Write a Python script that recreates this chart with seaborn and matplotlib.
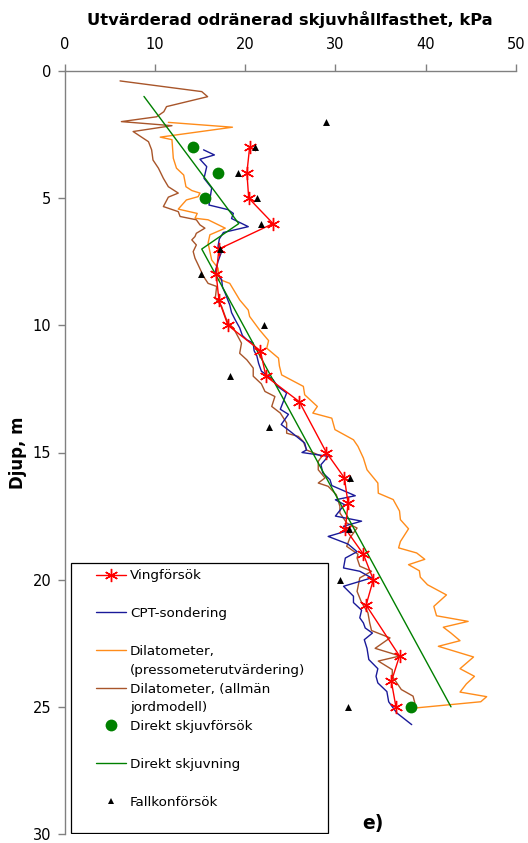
import matplotlib
matplotlib.use("Agg")
import matplotlib.pyplot as plt
import seaborn as sns
from matplotlib.lines import Line2D
from matplotlib.patches import Rectangle

# ---------------- data ----------------
vane_depth = [3, 4, 5, 6, 7, 8, 9, 10, 11, 12, 13, 15, 16, 17, 18, 19, 20, 21, 23, 24, 25]
vane_value = [20.5, 20.2, 20.4, 23.1, 17.1, 16.8, 17.1, 18.1, 21.7, 22.3, 26.0, 29.0, 31.0,
              31.4, 31.1, 33.1, 34.2, 33.4, 37.1, 36.2, 36.7]

cpt_depth = [3.1, 3.3, 3.47, 3.76, 4.22, 4.6, 5.27, 5.45, 5.6, 5.8, 6.12, 6.35, 6.6, 6.9, 7.1,
             7.49, 7.89, 8.2, 8.5, 8.74, 9.2, 9.5, 9.78, 10.1, 10.4, 10.57, 10.7, 11.0, 11.2,
             11.5, 11.8, 12.14, 12.4, 12.66, 13.3, 13.5, 13.9, 14.17, 14.63, 14.9, 15.0, 15.15,
             15.48, 15.8, 16.07, 16.3, 16.7, 16.86, 17.05, 17.5, 17.7, 17.9, 18.04, 18.3, 18.6,
             18.9, 19.15, 19.54, 19.67, 19.93, 20.26, 20.65, 20.9, 21.2, 21.5, 21.7, 21.9, 22.1,
             22.36, 22.7, 23.14, 23.5, 23.8, 24.06, 24.4, 24.8, 25.24, 25.7]
cpt_value = [15.4, 16.6, 15.0, 15.75, 15.45, 16.3, 16.0, 18.1, 18.7, 18.5, 20.35, 17.6, 17.15,
             17.0, 17.4, 17.0, 16.7, 17.4, 17.5, 17.8, 18.3, 18.5, 18.9, 19.4, 19.7, 20.2, 20.9,
             21.0, 21.3, 21.5, 21.8, 23.1, 23.6, 24.6, 23.9, 24.8, 24.0, 25.0, 26.6, 26.8, 26.3,
             29.2, 28.4, 28.6, 29.4, 29.6, 32.2, 30.0, 31.0, 30.0, 32.9, 30.9, 31.7, 29.2, 31.4,
             32.4, 31.1, 30.9, 32.7, 34.0, 30.9, 32.0, 32.0, 32.9, 32.7, 33.1, 33.3, 34.1, 33.2,
             33.5, 33.7, 34.7, 34.5, 34.7, 35.7, 35.9, 36.8, 38.45]

dilp_depth = [2.02, 2.21, 2.6, 2.7, 3.43, 3.82, 4.09, 4.55, 4.7, 4.8, 4.94, 5.07, 5.43, 5.6,
              5.79, 5.85, 6.18, 6.44, 6.77, 7.43, 7.75, 8.2, 8.35, 9.0, 9.4, 9.65, 10.18, 10.6,
              10.9, 11.29, 11.6, 11.95, 12.4, 12.73, 13.19, 13.45, 13.65, 14.1, 14.5, 14.76,
              15.22, 15.68, 16.2, 16.6, 16.85, 17.3, 17.64, 18.0, 18.5, 18.75, 18.95, 19.2,
              19.41, 19.65, 19.9, 20.2, 20.6, 21.05, 21.42, 21.64, 21.87, 22.1, 22.4, 22.62,
              23.04, 23.5, 23.8, 24.1, 24.42, 24.6, 24.8, 25.04]
dilp_value = [11.5, 18.6, 10.6, 11.9, 12.05, 12.4, 13.2, 13.45, 14.1, 15.0, 14.8, 13.5, 12.6,
              14.7, 14.45, 15.9, 17.8, 16.1, 15.9, 16.3, 17.0, 17.2, 18.3, 19.4, 20.35, 20.5,
              21.6, 22.6, 22.4, 23.7, 23.8, 24.05, 26.45, 26.6, 28.0, 27.5, 29.6, 29.95, 32.0,
              32.5, 33.1, 33.5, 34.7, 34.75, 36.4, 37.1, 37.2, 38.1, 37.2, 37.0, 39.0, 39.9,
              38.1, 39.3, 39.4, 40.2, 42.3, 40.9, 41.2, 44.7, 41.95, 42.8, 43.8, 41.4, 45.3,
              43.8, 45.4, 44.5, 43.8, 46.75, 46.1, 39.0]

dila_depth = [0.39, 0.81, 1.01, 1.4, 1.6, 1.8, 1.99, 2.15, 2.38, 2.78, 3.1, 3.5, 3.82, 4.22,
              4.55, 4.8, 4.96, 5.33, 5.53, 5.72, 5.85, 6.05, 6.18, 6.38, 6.51, 6.64, 6.84, 7.1,
              7.36, 7.62, 8.08, 8.35, 8.47, 8.93, 9.26, 9.65, 9.91, 10.1, 10.37, 10.7, 11.1,
              11.36, 11.68, 12.0, 12.3, 12.6, 12.8, 13.19, 13.45, 13.84, 14.24, 14.37, 14.57,
              14.9, 15.15, 15.35, 15.68, 16.0, 16.2, 16.33, 16.66, 17.12, 17.38, 17.77, 17.97,
              18.36, 18.69, 19.0, 19.15, 19.47, 19.67, 19.93, 20.46, 20.9, 21.3, 21.7, 22.0,
              22.29, 22.7, 23.0, 23.2, 23.54, 23.8, 24.06, 24.32, 24.58, 24.85]
dila_value = [6.15, 15.2, 15.85, 11.3, 11.0, 10.2, 6.3, 11.9, 7.6, 9.3, 9.65, 9.8, 10.4, 10.95,
              11.5, 12.6, 11.5, 10.95, 12.6, 12.8, 14.6, 15.0, 15.55, 14.6, 14.45, 14.1, 14.6,
              14.25, 14.45, 14.8, 15.4, 15.9, 16.85, 16.7, 17.4, 17.8, 18.1, 18.7, 19.1, 19.6,
              19.4, 20.2, 20.9, 20.9, 21.8, 22.2, 23.3, 22.95, 23.9, 24.6, 24.6, 25.9, 26.45,
              26.8, 28.5, 28.1, 28.1, 28.85, 28.1, 29.2, 30.1, 30.5, 30.5, 31.25, 32.4, 31.6,
              31.25, 32.5, 32.4, 32.7, 34.0, 32.7, 32.4, 32.9, 33.6, 33.8, 34.0, 36.05, 34.4,
              37.15, 34.75, 36.3, 36.3, 36.8, 37.3, 38.6, 38.8]

dst_depth = [3, 4, 5, 25]
dst_value = [14.2, 17.0, 15.6, 38.4]

ds_line_depth = [1.0, 6.0, 7.0, 25.0]
ds_line_value = [8.8, 19.3, 15.2, 42.8]

fall_depth = [2, 3, 4, 5, 6, 7, 8, 10, 12, 14, 16, 18, 20, 25]
fall_value = [29.0, 21.1, 19.2, 21.35, 21.8, 17.2, 15.1, 22.1, 18.3, 22.6, 31.6, 31.5, 30.5, 31.4]

legend_labels = ["Vingförsök", " ", "CPT-sondering", " ", "Dilatometer,",
                 "(pressometerutvärdering)", "Dilatometer, (allmän", "jordmodell)",
                 "Direkt skjuvförsök", " ", "Direkt skjuvning", " ", "Fallkonförsök"]

x_title = "Utvärderad odränerad skjuvhållfasthet, kPa"
y_title = "Djup, m"
x_ticks = [0, 10, 20, 30, 40, 50]
y_ticks = [0, 5, 10, 15, 20, 25, 30]

# ---------------- styling ----------------
sns.set_theme(style="white")
plt.rcParams['font.family'] = ['DejaVu Sans']
plt.rcParams['text.color'] = 'black'
plt.rcParams['axes.labelcolor'] = 'black'
plt.rcParams['xtick.color'] = 'black'
plt.rcParams['ytick.color'] = 'black'

RED = "#FF0000"
NAVY = "#1A1A99"
ORANGE = "#FF8C1A"
BROWN = "#A8552A"
GREEN = "#008000"
GRAY = "#808080"

W, H = 528, 843
fig = plt.figure(figsize=(W / 100, H / 100), dpi=100, facecolor="white")
ax_l, ax_r, ax_t, ax_b = 64.5, 516.0, 71.0, 834.0
ax = fig.add_axes([ax_l / W, 1 - ax_b / H, (ax_r - ax_l) / W, (ax_b - ax_t) / H])
ax.set_facecolor("white")

star = (6, 2, 0)
sns.lineplot(x=dila_value, y=dila_depth, sort=False, estimator=None, color=BROWN, lw=1.0,
             ax=ax, legend=False, zorder=2)
sns.lineplot(x=dilp_value, y=dilp_depth, sort=False, estimator=None, color=ORANGE, lw=1.0,
             ax=ax, legend=False, zorder=2)
sns.lineplot(x=cpt_value, y=cpt_depth, sort=False, estimator=None, color=NAVY, lw=1.0,
             ax=ax, legend=False, zorder=2.2)
sns.lineplot(x=ds_line_value, y=ds_line_depth, sort=False, estimator=None, color=GREEN,
             lw=1.0, ax=ax, legend=False, zorder=2.3)
sns.lineplot(x=vane_value, y=vane_depth, sort=False, estimator=None, color=RED, lw=1.0,
             marker=star, markersize=9.5, markeredgecolor=RED, markeredgewidth=1.0,
             ax=ax, legend=False, zorder=3)
sns.scatterplot(x=dst_value, y=dst_depth, color=GREEN, s=72, marker="o", linewidth=0,
                ax=ax, legend=False, zorder=3.2)
sns.scatterplot(x=fall_value, y=fall_depth, color="black", s=25, marker="^", linewidth=0,
                ax=ax, legend=False, zorder=3.4)

ax.set_xlim(0, 50)
ax.set_ylim(30, 0)
ax.xaxis.tick_top()
ax.xaxis.set_label_position("top")
ax.set_xticks(x_ticks)
ax.set_yticks(y_ticks)
ax.set_xticklabels([str(t) for t in x_ticks])
ax.set_yticklabels([str(t) for t in y_ticks])
ax.tick_params(axis="x", direction="out", length=5, width=1, color=GRAY, labelcolor="black",
               labelsize=10.5, pad=8.5, top=True, bottom=False, labeltop=True,
               labelbottom=False)
ax.tick_params(axis="y", direction="out", length=5, width=1, color=GRAY, labelcolor="black",
               labelsize=10.5, pad=4.5, left=True, right=False)
for side in ["right", "bottom"]:
    ax.spines[side].set_visible(False)
for side in ["top", "left"]:
    ax.spines[side].set_visible(True)
    ax.spines[side].set_color(GRAY)
    ax.spines[side].set_linewidth(1.0)
ax.grid(False)

ax.set_xlabel(x_title, fontsize=11.8, fontweight="bold", color="black")
ax.xaxis.label.set_verticalalignment("center")
ax.xaxis.set_label_coords(0.5, 1 + (ax_t - 19.5) / (ax_b - ax_t))
ax.set_ylabel(y_title, fontsize=12, fontweight="bold", color="black")
ax.yaxis.label.set_horizontalalignment("center")
ax.yaxis.label.set_verticalalignment("center")
ax.yaxis.set_label_coords((18 - ax_l) / (ax_r - ax_l), 0.5)

ax.text((373 - ax_l) / (ax_r - ax_l), 1 - (824 - ax_t) / (ax_b - ax_t), "e)",
        transform=ax.transAxes, fontsize=13.5, fontweight="bold", ha="center", va="center",
        color="black")

# ---------------- legend ----------------
blank = Line2D([], [], lw=0, marker=None)
handles = [
    Line2D([], [], color=RED, lw=1.0, marker=star, markersize=9.5, markeredgecolor=RED,
           markeredgewidth=1.0),
    blank,
    Line2D([], [], color=NAVY, lw=1.0),
    blank,
    Line2D([], [], color=ORANGE, lw=1.0),
    blank,
    Line2D([], [], color=BROWN, lw=1.0),
    blank,
    Line2D([], [], color=GREEN, lw=0, marker="o", markersize=8.5, markeredgewidth=0),
    blank,
    Line2D([], [], color=GREEN, lw=1.0),
    blank,
    Line2D([], [], color="black", lw=0, marker="^", markersize=5, markeredgewidth=0),
]
fs_leg = 9.7
fs_px = fs_leg * 100 / 72
hx = 95.7
row_first, row_last = 576.0, 802.0


def make_legend(ls, top_px):
    lg = ax.legend(handles, legend_labels, loc="upper left",
                   bbox_to_anchor=(hx / W, 1 - top_px / H), bbox_transform=fig.transFigure,
                   frameon=False, borderpad=0, borderaxespad=0, fontsize=fs_leg,
                   handlelength=30 / fs_px, handletextpad=4.3 / fs_px, labelspacing=ls,
                   numpoints=1, scatterpoints=1)
    for tx in lg.get_texts():
        tx.set_color("black")
    return lg


ls0, top0 = 0.4, 568.0
leg = make_legend(ls0, top0)
fig.canvas.draw()
r = fig.canvas.get_renderer()
t = leg.get_texts()
b0 = t[0].get_window_extent(r)
b1 = t[-1].get_window_extent(r)
pitch = ((b0.y0 + b0.y1) / 2 - (b1.y0 + b1.y1) / 2) / (len(t) - 1)
target = (row_last - row_first) / (len(t) - 1)
ls1 = ls0 + (target - pitch) / fs_px
leg.remove()
leg = make_legend(ls1, top0)
fig.canvas.draw()
t = leg.get_texts()
b0 = t[0].get_window_extent(r)
c0 = H - (b0.y0 + b0.y1) / 2
leg.remove()
leg = make_legend(ls1, top0 + (row_first - c0))

ax.add_patch(Rectangle((71 / W, 1 - 833 / H), (328 - 71) / W, (833 - 563) / H,
                       transform=fig.transFigure, facecolor="white", edgecolor="black",
                       lw=0.9, zorder=4.5))

fig.savefig("out.png", dpi=100, facecolor="white")
